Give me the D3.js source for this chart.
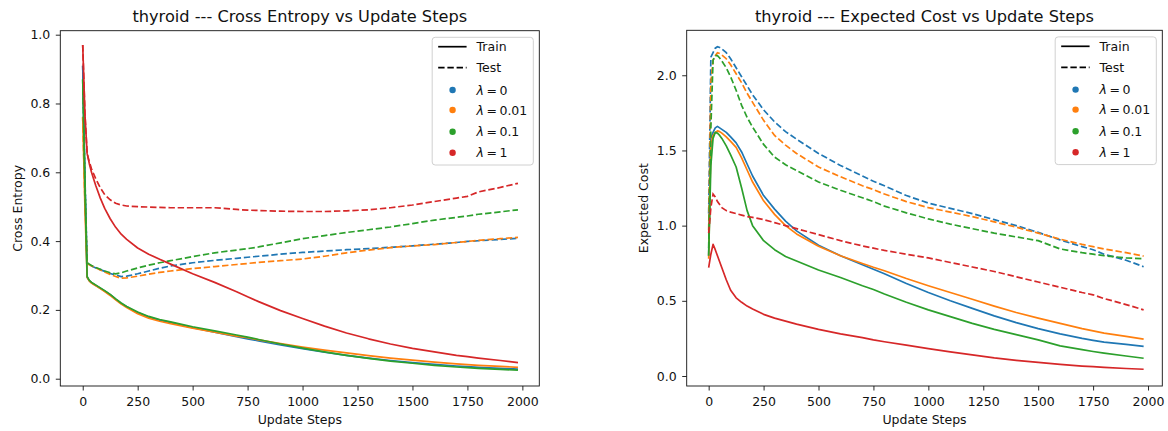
<!DOCTYPE html>
<html>
<head>
<meta charset="utf-8">
<script src="https://cdnjs.cloudflare.com/ajax/libs/d3/7.8.5/d3.min.js"></script>
<style>
  body { margin: 0; background: #fff; }
  svg { display: block; font-family: "DejaVu Sans", sans-serif; }
</style>
</head>
<body>
<svg id="chart" width="1168" height="431"></svg>
<script>
  'use strict';

  // update steps where the curves were sampled
  var steps = [0, 10, 20, 30, 40, 50, 60, 80, 100, 125, 150, 175, 200, 250, 300, 350, 400, 500, 600, 700,
    750, 800, 900, 1000, 1100, 1200, 1300, 1400, 1500, 1600, 1700, 1750, 1800, 1900, 1980];

  var lambdaLabels = ['0', '0.01', '0.1', '1'];
  var colors = ['#1f77b4', '#ff7f0e', '#2ca02c', '#d62728'];

  var xTicks = [0, 250, 500, 750, 1000, 1250, 1500, 1750, 2000];
  var ceTicks = [0, 0.2, 0.4, 0.6, 0.8, 1.0];
  var ecTicks = [0, 0.5, 1.0, 1.5, 2.0];

  // cross entropy, train
  var ceTrain0 = [0.91, 0.57, 0.295, 0.285, 0.279, 0.275, 0.271, 0.263, 0.255, 0.244, 0.231, 0.219, 0.209, 0.192, 0.179, 0.17, 0.163, 0.148, 0.135, 0.122,
    0.116, 0.11, 0.098, 0.087, 0.077, 0.068, 0.06, 0.053, 0.047, 0.042, 0.037, 0.035, 0.033, 0.03, 0.028];
  var ceTrain001 = [0.76, 0.50, 0.295, 0.284, 0.278, 0.274, 0.27, 0.262, 0.253, 0.242, 0.229, 0.217, 0.207, 0.189, 0.176, 0.167, 0.16, 0.147, 0.135, 0.124,
    0.119, 0.113, 0.102, 0.092, 0.083, 0.075, 0.067, 0.06, 0.054, 0.048, 0.043, 0.041, 0.039, 0.036, 0.033];
  var ceTrain01 = [0.87, 0.56, 0.297, 0.286, 0.28, 0.276, 0.272, 0.264, 0.256, 0.245, 0.232, 0.22, 0.21, 0.194, 0.181, 0.172, 0.165, 0.151, 0.139, 0.127,
    0.121, 0.114, 0.101, 0.089, 0.078, 0.068, 0.059, 0.051, 0.045, 0.039, 0.034, 0.032, 0.03, 0.027, 0.025];
  var ceTrain1 = [0.97, 0.77, 0.655, 0.625, 0.60, 0.58, 0.56, 0.525, 0.495, 0.465, 0.44, 0.42, 0.405, 0.38, 0.362, 0.347, 0.333, 0.305, 0.28, 0.253,
    0.238, 0.224, 0.198, 0.175, 0.153, 0.133, 0.116, 0.101, 0.088, 0.078, 0.068, 0.064, 0.06, 0.053, 0.047];

  // cross entropy, test
  var ceTest0 = [0.91, 0.59, 0.335, 0.331, 0.328, 0.325, 0.322, 0.317, 0.312, 0.306, 0.301, 0.297, 0.298, 0.305, 0.313, 0.321, 0.328, 0.337, 0.344, 0.35,
    0.353, 0.356, 0.362, 0.367, 0.371, 0.375, 0.378, 0.382, 0.386, 0.391, 0.396, 0.399, 0.401, 0.405, 0.408];
  var ceTest001 = [0.76, 0.52, 0.335, 0.331, 0.328, 0.325, 0.322, 0.316, 0.31, 0.303, 0.297, 0.292, 0.293, 0.298, 0.304, 0.309, 0.313, 0.32, 0.326, 0.332,
    0.335, 0.338, 0.343, 0.348, 0.356, 0.366, 0.374, 0.381, 0.386, 0.39, 0.396, 0.399, 0.402, 0.407, 0.411];
  var ceTest01 = [0.87, 0.58, 0.337, 0.333, 0.329, 0.326, 0.323, 0.318, 0.313, 0.308, 0.305, 0.308, 0.313, 0.322, 0.33, 0.337, 0.343, 0.355, 0.366, 0.374,
    0.378, 0.383, 0.395, 0.407, 0.416, 0.425, 0.433, 0.441, 0.451, 0.461, 0.469, 0.473, 0.478, 0.485, 0.491];
  var ceTest1 = [0.97, 0.77, 0.655, 0.63, 0.61, 0.595, 0.58, 0.555, 0.535, 0.52, 0.51, 0.505, 0.502, 0.50, 0.499, 0.498, 0.497, 0.497, 0.497, 0.492,
    0.49, 0.489, 0.487, 0.486, 0.486, 0.488, 0.491, 0.497, 0.505, 0.515, 0.525, 0.53, 0.543, 0.556, 0.568];

  // expected cost, train
  var ecTrain0 = [0.80, 1.58, 1.62, 1.65, 1.66, 1.65, 1.64, 1.62, 1.59, 1.55, 1.49, 1.41, 1.33, 1.20, 1.11, 1.03, 0.965, 0.87, 0.80, 0.74,
    0.71, 0.68, 0.615, 0.555, 0.50, 0.45, 0.40, 0.355, 0.315, 0.28, 0.25, 0.237, 0.225, 0.21, 0.197];
  var ecTrain001 = [0.78, 1.55, 1.60, 1.62, 1.63, 1.625, 1.615, 1.59, 1.56, 1.52, 1.45, 1.37, 1.29, 1.165, 1.075, 1.0, 0.945, 0.863, 0.80, 0.748,
    0.723, 0.70, 0.648, 0.60, 0.555, 0.51, 0.465, 0.422, 0.385, 0.35, 0.315, 0.30, 0.285, 0.263, 0.245];
  var ecTrain01 = [0.80, 1.40, 1.58, 1.62, 1.615, 1.60, 1.58, 1.53, 1.47, 1.39, 1.25, 1.10, 1.00, 0.90, 0.84, 0.795, 0.765, 0.705, 0.655, 0.60,
    0.575, 0.545, 0.49, 0.44, 0.395, 0.35, 0.31, 0.275, 0.24, 0.20, 0.175, 0.163, 0.152, 0.133, 0.118];
  var ecTrain1 = [0.72, 0.81, 0.875, 0.84, 0.80, 0.76, 0.72, 0.64, 0.57, 0.52, 0.49, 0.465, 0.445, 0.41, 0.385, 0.365, 0.345, 0.31, 0.28, 0.255,
    0.24, 0.228, 0.205, 0.182, 0.16, 0.14, 0.12, 0.104, 0.09, 0.077, 0.066, 0.062, 0.057, 0.05, 0.045];

  // expected cost, test
  var ecTest0 = [1.08, 2.12, 2.15, 2.18, 2.19, 2.185, 2.175, 2.15, 2.11, 2.05, 1.99, 1.93, 1.87, 1.77, 1.69, 1.625, 1.575, 1.48, 1.40, 1.33,
    1.295, 1.265, 1.20, 1.15, 1.115, 1.08, 1.04, 1.0, 0.955, 0.905, 0.86, 0.84, 0.81, 0.77, 0.727];
  var ecTest001 = [0.97, 1.95, 2.10, 2.13, 2.15, 2.145, 2.135, 2.11, 2.07, 2.01, 1.95, 1.88, 1.82, 1.70, 1.60, 1.535, 1.48, 1.39, 1.325, 1.265,
    1.24, 1.21, 1.16, 1.12, 1.09, 1.06, 1.025, 0.99, 0.95, 0.91, 0.875, 0.86, 0.845, 0.82, 0.797];
  var ecTest01 = [0.85, 1.65, 2.10, 2.13, 2.13, 2.115, 2.095, 2.05, 1.99, 1.90, 1.80, 1.72, 1.655, 1.54, 1.456, 1.405, 1.367, 1.29, 1.235, 1.185,
    1.16, 1.13, 1.085, 1.045, 1.01, 0.98, 0.95, 0.925, 0.90, 0.845, 0.82, 0.81, 0.80, 0.785, 0.78];
  var ecTest1 = [0.95, 1.12, 1.21, 1.19, 1.16, 1.14, 1.12, 1.10, 1.09, 1.08, 1.07, 1.06, 1.055, 1.04, 1.02, 1.0, 0.98, 0.94, 0.90, 0.865,
    0.85, 0.835, 0.81, 0.785, 0.755, 0.725, 0.695, 0.66, 0.625, 0.59, 0.555, 0.54, 0.515, 0.475, 0.44];

  var panels = [
    {
      title: 'thyroid --- Cross Entropy vs Update Steps',
      ylabel: 'Cross Entropy',
      box: {left: 60.3, right: 539.3, top: 30.7, bottom: 386},
      xlim: [-102, 2077],
      ylim: [-0.0212, 1.0116],
      yTicks: ceTicks,
      train: [ceTrain0, ceTrain001, ceTrain01, ceTrain1],
      test: [ceTest0, ceTest001, ceTest01, ceTest1]
    },
    {
      title: 'thyroid --- Expected Cost vs Update Steps',
      ylabel: 'Expected Cost',
      box: {left: 686.7, right: 1162.3, top: 30.3, bottom: 386},
      xlim: [-100, 2065],
      ylim: [-0.0665, 2.299],
      yTicks: ecTicks,
      train: [ecTrain0, ecTrain001, ecTrain01, ecTrain1],
      test: [ecTest0, ecTest001, ecTest01, ecTest1]
    }
  ];

  var svg = d3.select('#chart');
  var fmt = d3.format('.1f');

  panels.forEach(function(p)
  {
    var b = p.box;
    var x = d3.scaleLinear().domain(p.xlim).range([b.left, b.right]);
    var y = d3.scaleLinear().domain(p.ylim).range([b.bottom, b.top]);
    var g = svg.append('g');

    var clipId = 'clip' + Math.round(b.left);
    g.append('clipPath').attr('id', clipId)
      .append('rect')
      .attr('x', b.left).attr('y', b.top)
      .attr('width', b.right - b.left).attr('height', b.bottom - b.top);

    var line = d3.line()
      .x(function(d, i) { return x(steps[i]); })
      .y(function(d) { return y(d); });

    var curves = g.append('g').attr('clip-path', 'url(#' + clipId + ')');

    colors.forEach(function(c, k)
    {
      curves.append('path')
        .attr('d', line(p.train[k]))
        .attr('fill', 'none')
        .attr('stroke', c)
        .attr('stroke-width', 1.7)
        .attr('stroke-linejoin', 'round');

      curves.append('path')
        .attr('d', line(p.test[k]))
        .attr('fill', 'none')
        .attr('stroke', c)
        .attr('stroke-width', 1.7)
        .attr('stroke-dasharray', '6.4,2.8');
    });

    var xAxis = g.append('g')
      .attr('transform', 'translate(0,' + b.bottom + ')')
      .call(d3.axisBottom(x).tickValues(xTicks).tickSize(4.5).tickPadding(7).tickFormat(d3.format('d')));

    var yAxis = g.append('g')
      .attr('transform', 'translate(' + b.left + ',0)')
      .call(d3.axisLeft(y).tickValues(p.yTicks).tickSize(4.5).tickPadding(5.5).tickFormat(fmt));

    [xAxis, yAxis].forEach(function(a)
    {
      a.select('.domain').remove();
      a.selectAll('text').attr('font-size', 12.5).attr('fill', '#111').attr('font-family', '"DejaVu Sans", sans-serif');
      a.selectAll('line').attr('stroke', '#111').attr('stroke-width', 0.9);
    });

    g.append('rect')
      .attr('x', b.left).attr('y', b.top)
      .attr('width', b.right - b.left).attr('height', b.bottom - b.top)
      .attr('fill', 'none')
      .attr('stroke', '#111')
      .attr('stroke-width', 0.9);

    g.append('text')
      .attr('x', (b.left + b.right) / 2)
      .attr('y', 21.8)
      .attr('text-anchor', 'middle')
      .attr('font-size', 16.2)
      .attr('fill', '#111')
      .text(p.title);

    g.append('text')
      .attr('x', (b.left + b.right) / 2)
      .attr('y', 423.5)
      .attr('text-anchor', 'middle')
      .attr('font-size', 12.5)
      .attr('fill', '#111')
      .text('Update Steps');

    g.append('text')
      .attr('transform', 'translate(' + (b.left - 43) + ',' + ((b.top + b.bottom) / 2) + ') rotate(-90)')
      .attr('text-anchor', 'middle')
      .attr('dy', '0.35em')
      .attr('font-size', 12.5)
      .attr('fill', '#111')
      .text(p.ylabel);

    // legend
    var lg = g.append('g').attr('transform', 'translate(' + (b.right - 6) + ',' + (b.top + 6.6) + ')');
    var box = lg.append('rect')
      .attr('y', 0)
      .attr('height', 127.7)
      .attr('rx', 3)
      .attr('fill', '#fff')
      .attr('fill-opacity', 0.8)
      .attr('stroke', '#d0d0d0')
      .attr('stroke-width', 1);

    var rows = [{kind: 'line', dash: null, label: 'Train'}, {kind: 'line', dash: '6.4,2.8', label: 'Test'}]
      .concat(lambdaLabels.map(function(l, k) { return {kind: 'dot', color: colors[k], lambda: l}; }));

    var items = lg.append('g');
    var rowY = [9.4, 30.4, 52.7, 72.7, 94.4, 115.4];
    var maxW = 0;

    rows.forEach(function(r, i)
    {
      var row = items.append('g').attr('transform', 'translate(0,' + rowY[i] + ')');

      if (r.kind === 'line')
      {
        row.append('line')
          .attr('x1', 6).attr('x2', 34.4)
          .attr('stroke', '#000')
          .attr('stroke-width', 1.7)
          .attr('stroke-dasharray', r.dash);
      }
      else
      {
        row.append('circle').attr('cx', 20.4).attr('r', 3.2).attr('fill', r.color);
      }

      var t = row.append('text')
        .attr('x', 44.4)
        .attr('dy', '0.36em')
        .attr('font-size', 12.5)
        .attr('fill', '#111');

      if (r.kind === 'line')
      {
        t.text(r.label);
      }
      else
      {
        t.append('tspan').attr('font-style', 'italic').text('\u03bb');
        t.append('tspan').text('\u2009=\u2009' + r.lambda);
      }

      maxW = Math.max(maxW, t.node().getComputedTextLength());
    });

    var w = 44.4 + maxW + 6;
    box.attr('x', 0).attr('width', w);
    lg.attr('transform', 'translate(' + (b.right - 6 - w) + ',' + (b.top + 6.6) + ')');
  });
</script>
</body>
</html>
